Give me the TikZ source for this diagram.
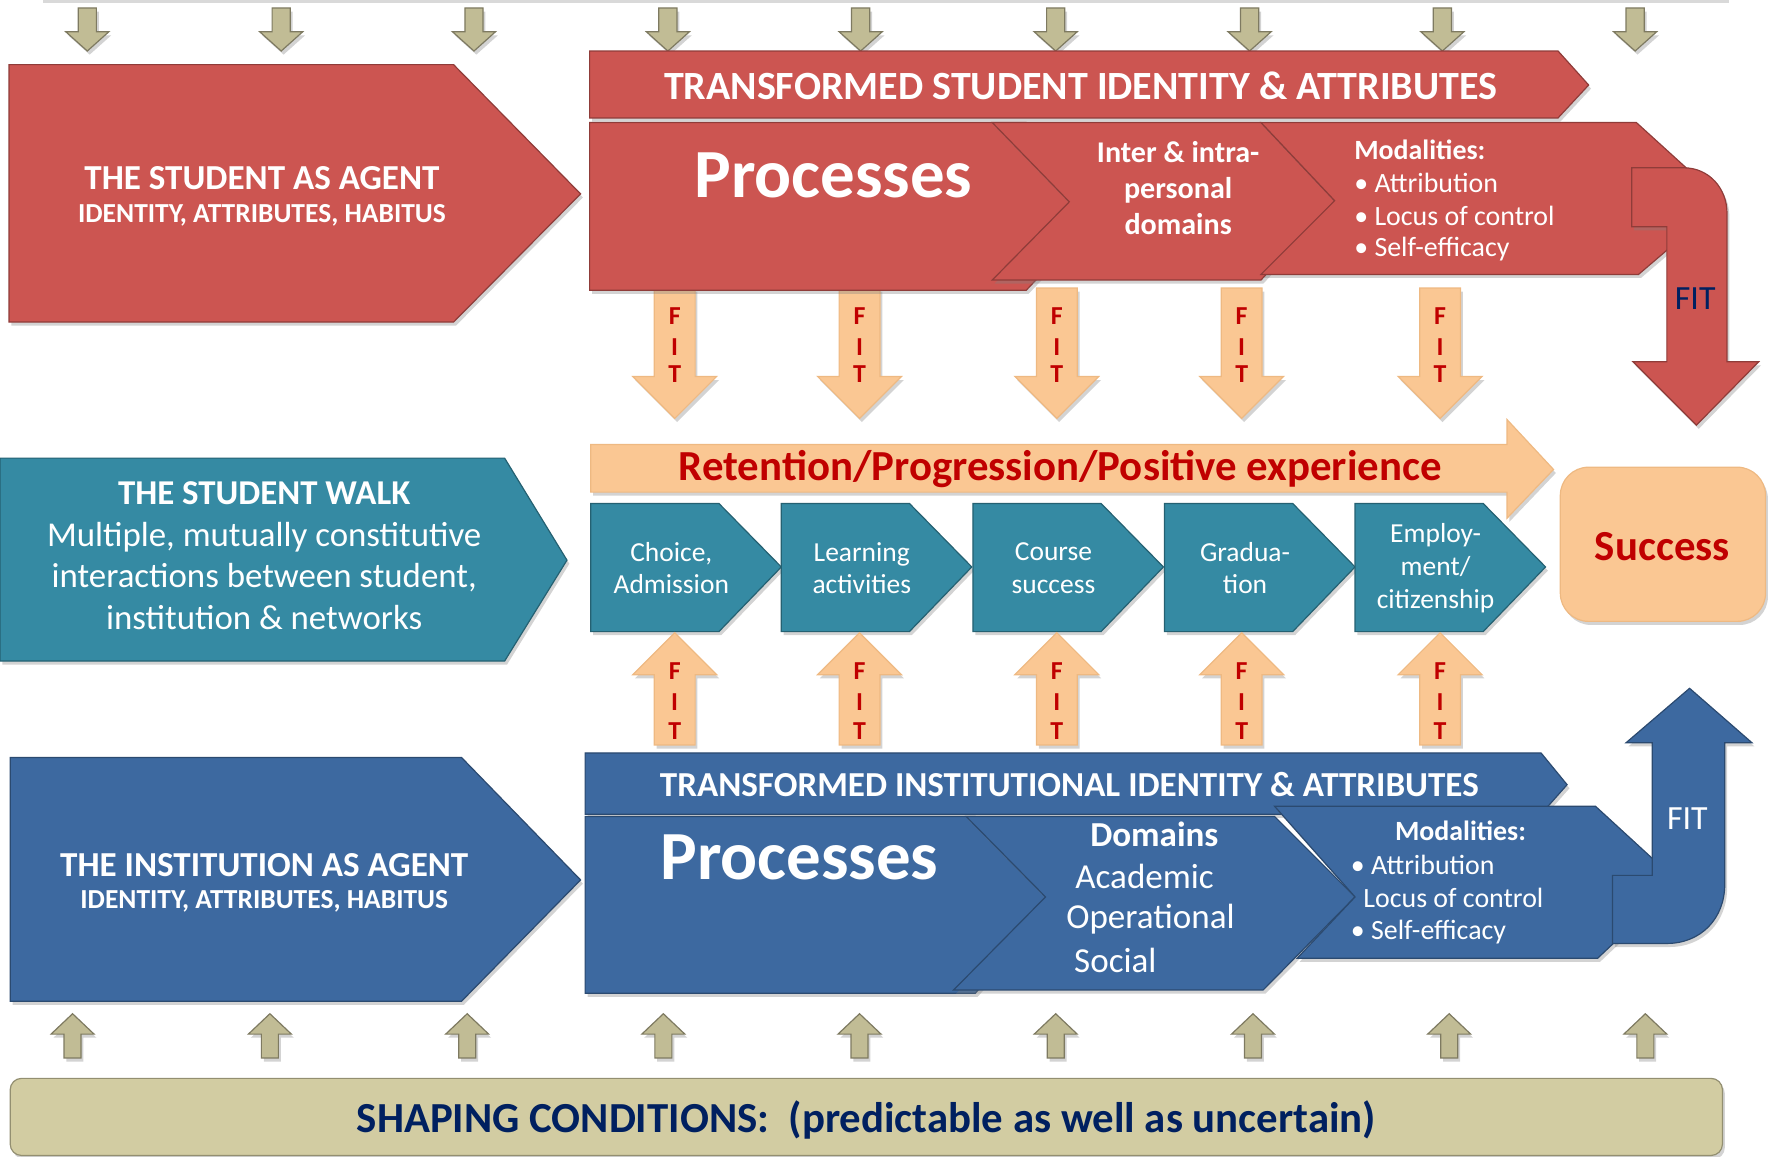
\documentclass[tikz,border=0pt]{standalone}
\usepackage{fontspec}
\setmainfont{Carlito}
\usepackage{xcolor}
\usepackage{tikz}
\usetikzlibrary{shadows}

\definecolor{agentred}{HTML}{CC5551}
\definecolor{walkteal}{HTML}{358AA3}
\definecolor{instblue}{HTML}{3D69A0}
\definecolor{peach}{HTML}{FAC793}
\definecolor{khaki}{HTML}{D2CCA2}
\definecolor{fitred}{HTML}{C00000}
\definecolor{navy}{HTML}{002060}

\begin{document}
\begin{tikzpicture}[x=0.02cm, y=-0.02cm,
	plate/.style={line width=0.6pt, drop shadow={opacity=0.35, shadow xshift=1.2pt, shadow yshift=-1.8pt}},
	redblock/.style={plate, fill=agentred, draw=agentred!70!black},
	tealblock/.style={plate, fill=walkteal, draw=walkteal!70!black},
	blueblock/.style={plate, fill=instblue, draw=instblue!70!black},
	peachblock/.style={plate, fill=peach, draw=peach!80!brown},
	khakiblock/.style={plate, fill=khaki, draw=khaki!70!black},
	khakiarrow/.style={plate, fill=khaki!92!black, draw=khaki!60!black},
	whitetext/.style={text=white, inner sep=0pt},
	fitletter/.style={text=fitred, inner sep=0pt, font=\bfseries\fontsize{13pt}{15pt}\selectfont}]

\useasboundingbox (0,0) rectangle (1568,1020);

\fill[black!15] (38,0) rectangle (1525,3);

\foreach \x in {77,248,418,589,759,931,1102,1272,1442}
{
	\path[khakiarrow] (\x-8,7) -- (\x+8,7) -- (\x+8,28) -- (\x+19,28) -- (\x,45) -- (\x-19,28) -- (\x-8,28) -- cycle;
}

\foreach \x in {595,758,932,1095,1270}
{
	\path[peachblock] (\x-18,254) -- (\x+18,254) -- (\x+18,332) -- (\x+37,332) -- (\x,369) -- (\x-37,332) -- (\x-18,332) -- cycle;
	\node (fd-\x-f) at (\x,279) [fitletter] {F};
	\node (fd-\x-i) at (\x,306) [fitletter] {I};
	\node (fd-\x-t) at (\x,330) [fitletter] {T};
}

\path[redblock] (8,57) -- (400,57) -- (512,171) -- (400,284) -- (8,284) -- cycle;
\node (sagent) at (231,157) [whitetext, font=\bfseries\fontsize{17.6pt}{21pt}\selectfont] {THE STUDENT AS AGENT};
\node (sagentsub) at (231,190) [whitetext, font=\bfseries\fontsize{13.8pt}{16pt}\selectfont] {IDENTITY, ATTRIBUTES, HABITUS};

\path[redblock] (520,45) -- (1374,45) -- (1401,75) -- (1374,104) -- (520,104) -- cycle;
\node (sbar) at (953,76) [whitetext, font=\bfseries\fontsize{20.1pt}{24pt}\selectfont] {TRANSFORMED STUDENT IDENTITY \& ATTRIBUTES};

\path[redblock] (520,108) -- (905,108) -- (975,182) -- (905,256) -- (520,256) -- cycle;
\node (sproc) at (735,155) [whitetext, font=\bfseries\fontsize{34.6pt}{40pt}\selectfont] {Processes};

\path[redblock] (875,108) -- (1112,108) -- (1177,177) -- (1112,247) -- (875,247) -- (943,178) -- cycle;
\node (sdom) at (1039,166) [whitetext, align=center, font=\bfseries\fontsize{15.1pt}{18.2pt}\selectfont] {Inter \& intra-\\personal\\domains};

\path[redblock] (1112,108) -- (1443,108) -- (1520,178) -- (1445,242) -- (1112,242) -- (1177,177) -- cycle;
\node (smod) at (1194,132) [whitetext, anchor=west, font=\bfseries\fontsize{14pt}{17pt}\selectfont] {Modalities:};
\foreach \txt [count=\i] in {Attribution, Locus of control, Self-efficacy}
{
	\node (smod\i) at (1194,132+29.3*\i) [whitetext, anchor=west, font=\fontsize{14pt}{17pt}\selectfont] {\textbullet\ \txt};
}

\path[redblock] (1439,148) -- (1485,148) .. controls (1507,148) and (1523,166) .. (1523,188) -- (1523,319) -- (1551,319) -- (1496,375) -- (1440,319) -- (1470,319) -- (1470,200) -- (1439,200) -- cycle;
\node (sfit) at (1495,263) [text=navy, inner sep=0pt, font=\fontsize{17pt}{20pt}\selectfont] {FIT};

\path[peachblock] (521,392) -- (1329,392) -- (1329,370) -- (1370,414) -- (1329,457) -- (1329,434) -- (521,434) -- cycle;
\node (retention) at (935,414) [text=fitred, inner sep=0pt, font=\bfseries\fontsize{21.5pt}{25pt}\selectfont] {Retention/Progression/Positive experience};

\path[peachblock, rounded corners=0.5cm] (1376,412) rectangle (1557,548);
\node (success) at (1466,482) [text=fitred, inner sep=0pt, font=\bfseries\fontsize{21.5pt}{25pt}\selectfont] {Success};

\path[tealblock] (0,404) -- (445,404) -- (500,494) -- (445,583) -- (0,583) -- cycle;
\node (walk) at (233,490) [whitetext, align=center, font=\fontsize{17.5pt}{21pt}\selectfont] {\textbf{THE STUDENT WALK}\\Multiple, mutually constitutive\\interactions between student,\\institution \& networks};

\foreach \x/\txt in {521/{Choice,\\Admission}, 689/{Learning\\activities}, 858/{Course\\success}, 1027/{Gradua-\\tion}, 1195/{Employ-\\ment/\\citizenship}}
{
	\path[tealblock] (\x,444) -- (\x+113,444) -- (\x+168,500) -- (\x+113,557) -- (\x,557) -- cycle;
	\node (walk\x) at (\x+71,501) [whitetext, align=center, font=\fontsize{13.8pt}{16.5pt}\selectfont] {\txt};
}

\foreach \x in {595,758,932,1095,1270}
{
	\path[peachblock] (\x-18,657) -- (\x+18,657) -- (\x+18,595) -- (\x+37,595) -- (\x,558) -- (\x-37,595) -- (\x-18,595) -- cycle;
	\node (fu-\x-f) at (\x,592) [fitletter] {F};
	\node (fu-\x-i) at (\x,619) [fitletter] {I};
	\node (fu-\x-t) at (\x,645) [fitletter] {T};
}

\path[blueblock] (9,668) -- (407,668) -- (512,776) -- (407,883) -- (9,883) -- cycle;
\node (iagent) at (233,763) [whitetext, font=\bfseries\fontsize{17.6pt}{21pt}\selectfont] {THE INSTITUTION AS AGENT};
\node (iagentsub) at (233,795) [whitetext, font=\bfseries\fontsize{13.8pt}{16pt}\selectfont] {IDENTITY, ATTRIBUTES, HABITUS};

\path[blueblock] (516,664) -- (1359,664) -- (1382,692) -- (1359,718) -- (516,718) -- cycle;
\node (ibar) at (943,692) [whitetext, font=\bfseries\fontsize{17.6pt}{21pt}\selectfont] {TRANSFORMED INSTITUTIONAL IDENTITY \& ATTRIBUTES};

\path[blueblock] (516,720) -- (860,720) -- (930,797) -- (860,876) -- (516,876) -- cycle;
\node (iproc) at (705,756) [whitetext, font=\bfseries\fontsize{34.6pt}{40pt}\selectfont] {Processes};

\path[blueblock] (852,720) -- (1124,720) -- (1195,791) -- (1114,873) -- (841,873) -- (922,791) -- cycle;
\node (idom) at (1018,736) [whitetext, font=\bfseries\fontsize{17.6pt}{21pt}\selectfont] {Domains};
\node (idom1) at (948,773) [whitetext, anchor=west, font=\fontsize{17.6pt}{21pt}\selectfont] {Academic};
\node (idom2) at (940,811) [whitetext, anchor=west, font=\fontsize{17.6pt}{21pt}\selectfont] {Operational};
\node (idom3) at (947,847) [whitetext, anchor=west, font=\fontsize{17.6pt}{21pt}\selectfont] {Social};

\path[blueblock] (1124,711) -- (1407,711) -- (1480,778) -- (1409,845) -- (1144,845) -- (1195,791) -- cycle;
\node (imod) at (1288,733) [whitetext, font=\bfseries\fontsize{14pt}{17pt}\selectfont] {Modalities:};
\node (imod1) at (1191,763) [whitetext, anchor=west, font=\fontsize{14pt}{17pt}\selectfont] {\textbullet\ Attribution};
\node (imod2) at (1202,792) [whitetext, anchor=west, font=\fontsize{14pt}{17pt}\selectfont] {Locus of control};
\node (imod3) at (1191,822) [whitetext, anchor=west, font=\fontsize{14pt}{17pt}\selectfont] {\textbullet\ Self-efficacy};

\path[blueblock] (1422,832) -- (1470,832) .. controls (1500,832) and (1521,810) .. (1521,780) -- (1521,655) -- (1545,655) -- (1490,607) -- (1434,655) -- (1457,655) -- (1457,772) -- (1422,772) -- cycle;
\node (ifit) at (1488,722) [whitetext, font=\fontsize{17pt}{20pt}\selectfont] {FIT};

\foreach \x in {64,238,412,585,758,931,1105,1278,1451}
{
	\path[khakiarrow] (\x-7.5,933) -- (\x-7.5,912) -- (\x-19,912) -- (\x,894) -- (\x+19,912) -- (\x+7.5,912) -- (\x+7.5,933) -- cycle;
}

\path[khakiblock, rounded corners=0.2cm] (9,951) rectangle (1519,1019);
\node (shaping) at (764,988) [text=navy, inner sep=0pt, font=\bfseries\fontsize{21.5pt}{25pt}\selectfont] {SHAPING CONDITIONS:\ \ (predictable as well as uncertain)};

\end{tikzpicture}
\end{document}
